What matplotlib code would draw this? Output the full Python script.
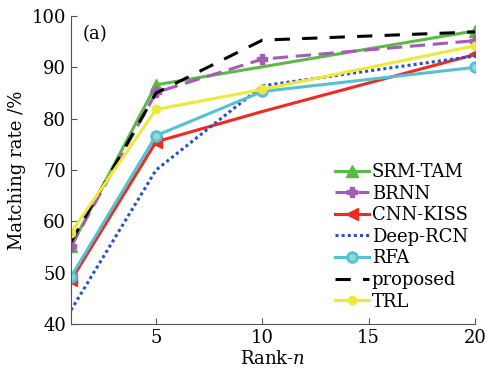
import matplotlib
matplotlib.use("Agg")
import matplotlib.pyplot as plt

# rank positions
rank = [1, 5, 10, 20]

srm_tam = [55.1, 86.6, 90.1, 97.1]
brnn = [55.1, 85.1, 91.6, 95.2]
cnn_kiss = [48.5, 75.5, 81.4, 92.5]
deep_rcn = [42.7, 70.0, 86.4, 92.2]
rfa = [49.2, 76.7, 85.3, 90.0]
proposed = [56.0, 85.0, 95.3, 96.9]
trl = [57.8, 81.8, 85.7, 94.2]

plt.rcParams['font.family'] = ['DejaVu Serif']
plt.rcParams['mathtext.fontset'] = 'dejavuserif'

fig = plt.figure(figsize=(4.91, 3.74), dpi=100)
ax = fig.add_axes([71 / 491, 1 - 324 / 374, 404 / 491, 308 / 374])

ax.plot(rank, srm_tam, color='#5cb947', lw=2.2, marker='^', ms=8,
        markevery=[0, 1, 3], label='SRM-TAM')
ax.plot(rank, brnn, color='#a35db3', lw=2.2, ls=(0, (5, 2.5)), marker='P', ms=7,
        label='BRNN')
ax.plot(rank, cnn_kiss, color='#ee2a24', lw=2.2, marker='<', ms=8,
        markevery=[0, 1, 3], label='CNN-KISS')
ax.plot(rank, deep_rcn, color='#2a52c0', lw=2.2, ls=(0, (1, 1)), label='Deep-RCN')
ax.plot(rank, rfa, color='#52c3cf', lw=2.2, marker='o', ms=7,
        mfc='#8fd8e0', mew=2, label='RFA')
ax.plot(rank, proposed, color='black', lw=2.2, ls=(0, (5, 4)), label='proposed')
ax.plot(rank, trl, color='#eee83a', lw=2.2, marker='o', ms=6, label='TRL')

ax.set_xlim(1, 20)
ax.set_ylim(40, 100)
ax.set_xticks([5, 10, 15, 20])
ax.set_yticks(range(40, 101, 10))
ax.tick_params(direction='in', labelsize=13, length=4, color='#555555')
ax.spines['top'].set_visible(False)
ax.spines['right'].set_visible(False)
ax.spines['left'].set_color('#555555')
ax.spines['bottom'].set_color('#555555')

ax.set_xlabel('Rank-$n$', fontsize=13, labelpad=2)
ax.set_ylabel('Matching rate /%', fontsize=13, labelpad=4)
ax.text(0.03, 0.97, '(a)', transform=ax.transAxes, fontsize=13, va='top')

ax.legend(loc='lower right', frameon=False, fontsize=13, handlelength=1.9,
          handletextpad=0.15, labelspacing=0.2, borderaxespad=0.0,
          bbox_to_anchor=(1.0, 0.02))

fig.savefig('out.png', dpi=100)
